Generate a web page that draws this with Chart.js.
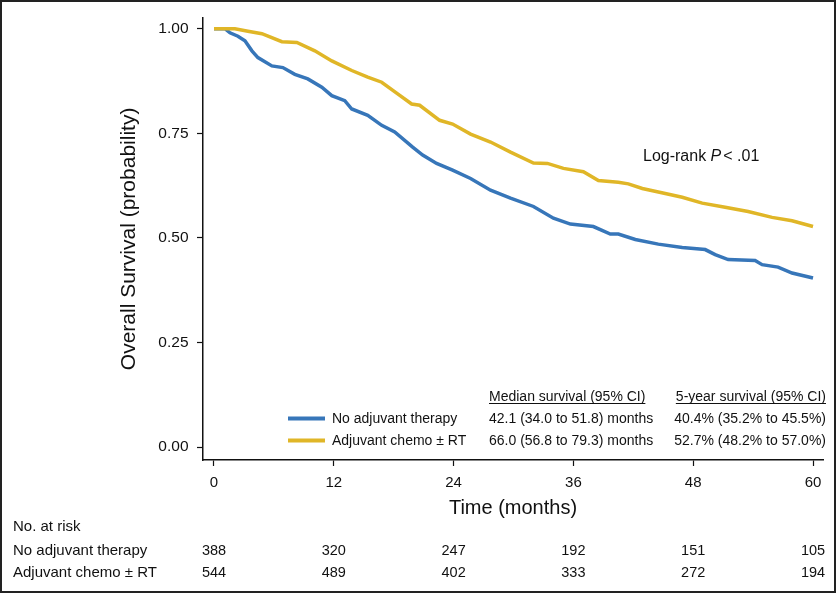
<!DOCTYPE html>
<html>
<head>
<meta charset="utf-8">
<title>Overall Survival</title>
<script src="https://cdn.jsdelivr.net/npm/chart.js@4.4.1/dist/chart.umd.min.js"></script>
<style>
    html, body { margin: 0; padding: 0; background: #fff; }
    #wrap { width: 839px; height: 594px; }
</style>
</head>
<body>
<div id="wrap"><canvas id="osChart" width="839" height="594"></canvas></div>
<script>
/* Kaplan-Meier: overall survival, no adjuvant therapy vs adjuvant chemo +/- RT */

// ---------- data ----------
const groupNames = ["No adjuvant therapy", "Adjuvant chemo \u00B1 RT"];

const noAdjTime = [0, 1.1, 1.6, 2.4, 3.1, 3.8, 4.4, 5.8, 6.9, 8.1, 9.4, 10.8, 11.8, 13.1, 13.8,
    15.4, 16.8, 18.1, 19.9, 20.9, 22.3, 23.9, 25.7, 27.7, 29.7, 32.0, 34.0, 35.7, 38.0, 39.7,
    40.5, 42.2, 44.5, 46.9, 49.2, 50.2, 51.5, 54.2, 54.9, 56.5, 57.9, 60];
const noAdjSurv = [1, 1, 0.990, 0.982, 0.971, 0.947, 0.931, 0.911, 0.907, 0.891, 0.880, 0.860, 0.840, 0.828, 0.808,
    0.793, 0.769, 0.753, 0.717, 0.698, 0.678, 0.662, 0.642, 0.614, 0.595, 0.575, 0.547, 0.533, 0.527, 0.509,
    0.509, 0.496, 0.485, 0.477, 0.472, 0.460, 0.448, 0.446, 0.436, 0.430, 0.416, 0.404];

const chemoTime = [0, 2.1, 3.4, 4.8, 6.8, 8.3, 10.1, 11.8, 13.8, 15.4, 16.8, 18.4, 19.8, 20.6, 22.6,
    23.9, 25.7, 27.7, 29.7, 32.0, 33.4, 35.0, 37.0, 38.5, 40.5, 41.5, 42.9, 45.2, 46.9, 48.9,
    51.2, 53.5, 55.9, 57.9, 60];
const chemoSurv = [1, 1, 0.994, 0.988, 0.969, 0.967, 0.947, 0.923, 0.900, 0.884, 0.872, 0.844, 0.820, 0.817, 0.781,
    0.772, 0.748, 0.729, 0.705, 0.679, 0.678, 0.666, 0.658, 0.637, 0.633, 0.629, 0.618, 0.606, 0.597, 0.583,
    0.573, 0.563, 0.549, 0.541, 0.527];

const xTicks = [0, 12, 24, 36, 48, 60];
const yTicks = [0, 0.25, 0.5, 0.75, 1];

const atRiskNoAdj = [388, 320, 247, 192, 151, 105];
const atRiskChemo = [544, 489, 402, 333, 272, 194];

const medianText = ["42.1 (34.0 to 51.8) months", "66.0 (56.8 to 79.3) months"];
const fiveYearText = ["40.4% (35.2% to 45.5%)", "52.7% (48.2% to 57.0%)"];

(function () {
    "use strict";

    const BLUE = "#3776B9";
    const GOLD = "#E0B627";
    const FONT = "'Liberation Sans', Arial, Helvetica, sans-serif";

    function toPoints(ts, ss) {
        return ts.map(function (t, i) { return { x: t, y: ss[i] }; });
    }

    // ---------- annotations, summary table, at-risk table, frame ----------
    const extras = {
        id: "kmExtras",
        afterDraw: function (chart) {
            const ctx = chart.ctx;
            const xs = chart.scales.x;
            ctx.save();
            ctx.fillStyle = "#111";
            ctx.textBaseline = "alphabetic";

            // log-rank
            ctx.font = "16px " + FONT;
            ctx.textAlign = "left";
            let lx = 643;
            ctx.fillText("Log-rank ", lx, 160.5);
            lx += ctx.measureText("Log-rank ").width;
            ctx.font = "italic 16px " + FONT;
            ctx.fillText("P", lx, 160.5);
            lx += ctx.measureText("P").width;
            ctx.font = "16px " + FONT;
            ctx.fillText("< .01", lx + 2, 160.5);

            // summary table
            ctx.font = "14px " + FONT;
            ctx.strokeStyle = "#111";
            ctx.lineWidth = 1;
            const h1 = "Median survival (95% CI)";
            const h2 = "5-year survival (95% CI)";
            ctx.textAlign = "left";
            ctx.fillText(h1, 489, 400.5);
            const w1 = ctx.measureText(h1).width;
            ctx.textAlign = "right";
            ctx.fillText(h2, 826, 400.5);
            const w2 = ctx.measureText(h2).width;
            ctx.beginPath();
            ctx.moveTo(489, 403.5); ctx.lineTo(489 + w1, 403.5);
            ctx.moveTo(826 - w2, 403.5); ctx.lineTo(826, 403.5);
            ctx.stroke();

            const rowY = [423, 445];
            const cols = [BLUE, GOLD];
            for (let i = 0; i < 2; i++) {
                ctx.strokeStyle = cols[i];
                ctx.lineWidth = 4;
                ctx.beginPath();
                ctx.moveTo(288, rowY[i] - 4.5);
                ctx.lineTo(325, rowY[i] - 4.5);
                ctx.stroke();
                ctx.textAlign = "left";
                ctx.fillText(groupNames[i], 332, rowY[i]);
                ctx.fillText(medianText[i], 489, rowY[i]);
                ctx.textAlign = "right";
                ctx.fillText(fiveYearText[i], 826, rowY[i]);
            }

            // number at risk
            ctx.font = "15px " + FONT;
            ctx.textAlign = "left";
            ctx.fillText("No. at risk", 13, 530.5);
            ctx.fillText(groupNames[0], 13, 555);
            ctx.fillText(groupNames[1], 13, 577);
            ctx.font = "14.5px " + FONT;
            ctx.textAlign = "center";
            xTicks.forEach(function (t, i) {
                const px = xs.getPixelForValue(t);
                ctx.fillText(String(atRiskNoAdj[i]), px, 555);
                ctx.fillText(String(atRiskChemo[i]), px, 577);
            });

            // outer frame
            ctx.strokeStyle = "#222";
            ctx.lineWidth = 2;
            ctx.strokeRect(1, 1, 834, 591);
            ctx.restore();
        }
    };

    new Chart(document.getElementById("osChart").getContext("2d"), {
        type: "line",
        data: {
            datasets: [{
                label: groupNames[1],
                data: toPoints(chemoTime, chemoSurv),
                borderColor: GOLD,
                borderWidth: 3.5,
                pointRadius: 0,
                tension: 0,
                fill: false
            }, {
                label: groupNames[0],
                data: toPoints(noAdjTime, noAdjSurv),
                borderColor: BLUE,
                borderWidth: 3.5,
                pointRadius: 0,
                tension: 0,
                fill: false
            }]
        },
        options: {
            responsive: false,
            animation: false,
            layout: { padding: { top: 15, right: 16, left: 0, bottom: 0 } },
            plugins: { legend: { display: false }, tooltip: { enabled: false } },
            scales: {
                x: {
                    type: "linear",
                    min: -1.1,
                    max: 61,
                    afterBuildTicks: function (s) { s.ticks = xTicks.map(function (v) { return { value: v }; }); },
                    afterFit: function (s) { s.height = 134; },
                    grid: { drawOnChartArea: false, drawTicks: true, tickLength: 6, tickColor: "#111", tickWidth: 1.2 },
                    border: { display: true, color: "#111", width: 1.5 },
                    ticks: { color: "#111", padding: 8, maxRotation: 0, font: { family: FONT, size: 15 },
                             callback: function (v) { return String(v); } },
                    title: { display: true, text: "Time (months)", color: "#111",
                             font: { family: FONT, size: 20 }, padding: { top: 0, bottom: 74 } }
                },
                y: {
                    min: -0.031,
                    max: 1.026,
                    afterBuildTicks: function (s) { s.ticks = yTicks.map(function (v) { return { value: v }; }); },
                    afterFit: function (s) { s.width = 203; },
                    grid: { drawOnChartArea: false, drawTicks: true, tickLength: 6, tickColor: "#111", tickWidth: 1.2 },
                    border: { display: true, color: "#111", width: 1.5 },
                    ticks: { color: "#111", padding: 8.5, font: { family: FONT, size: 15.5 },
                             callback: function (v) { return Number(v).toFixed(2); } },
                    title: { display: true, text: "Overall Survival (probability)", color: "#111",
                             font: { family: FONT, size: 21 }, padding: { top: 117, bottom: 0 } }
                }
            }
        },
        plugins: [extras]
    });
})();
</script>
</body>
</html>
